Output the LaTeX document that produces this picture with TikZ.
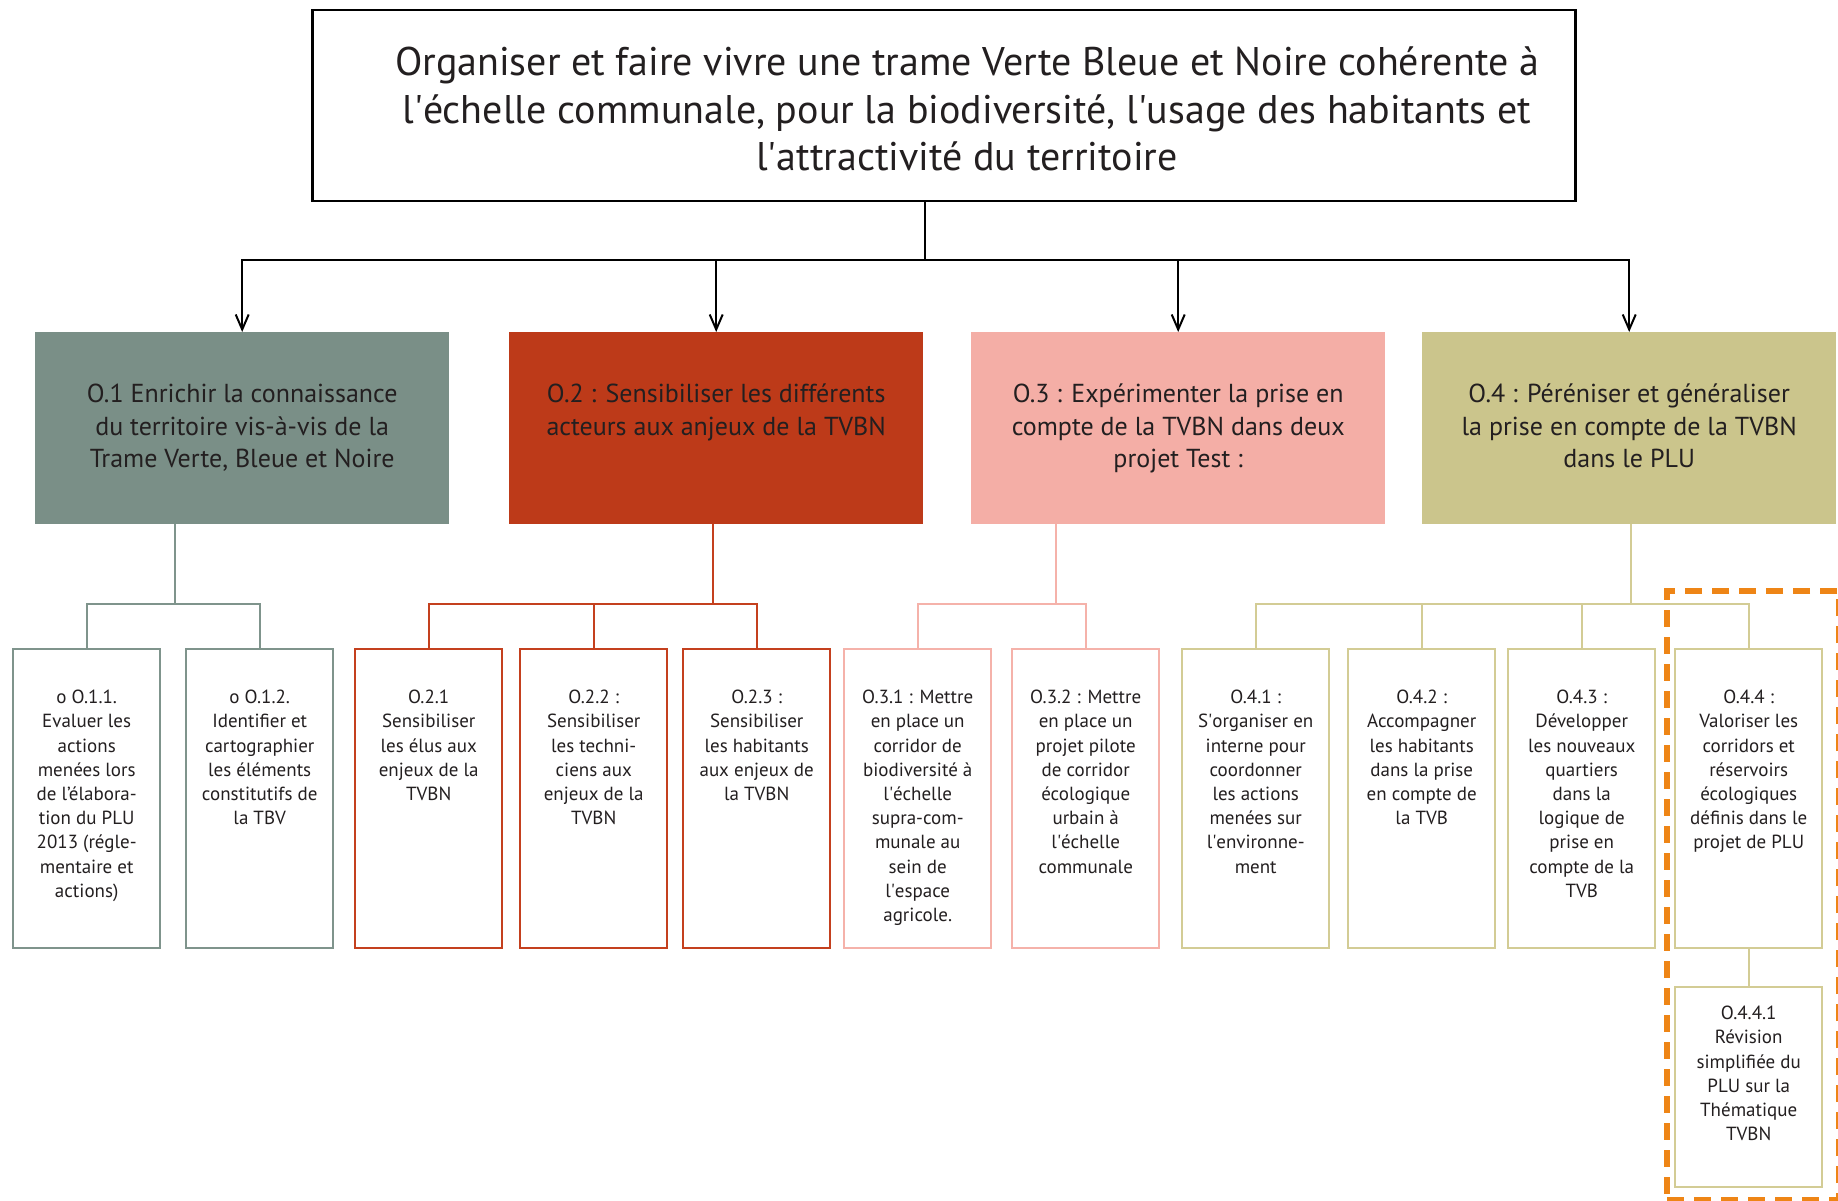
\documentclass[tikz,border=0pt]{standalone}
\usepackage{fontspec}
\setmainfont{PT Sans}
\usetikzlibrary{arrows.meta}
\definecolor{txt}{HTML}{231F20}
\definecolor{cA}{HTML}{7A8F87}
\definecolor{cAl}{HTML}{7F948C}
\definecolor{cB}{HTML}{BD3A19}
\definecolor{cBl}{HTML}{C4401E}
\definecolor{cC}{HTML}{F4AEA6}
\definecolor{cCl}{HTML}{F5B2AA}
\definecolor{cD}{HTML}{CBC58C}
\definecolor{cDl}{HTML}{D3CC95}
\definecolor{cO}{HTML}{EE8516}
\newcommand\apos{\textquotesingle}
\begin{document}
\begin{tikzpicture}[x=1pt,y=-1pt,
  topbox/.style={draw=black, line width=2.5pt, inner sep=0pt, anchor=north west,
    minimum width=1263pt, minimum height=191pt},
  lvlone/.style={fill=#1, draw=none, inner sep=0pt, anchor=north west,
    minimum width=414pt, minimum height=192pt},
  lvltwo/.style={draw=#1, fill=white, line width=2.4pt, inner sep=0pt, anchor=north west,
    minimum width=147pt, minimum height=299pt},
  toptext/.style={text=txt, align=center, inner sep=0pt, font=\fontsize{40}{47.5}\selectfont},
  onetext/.style={text=txt, align=center, inner sep=0pt, anchor=north, font=\fontsize{26}{32.5}\selectfont},
  twotext/.style={text=txt, align=center, inner sep=0pt, anchor=north, font=\fontsize{19}{24.2}\selectfont},
  blk/.style={draw=black, line width=2pt},
  arr/.style={blk, -{Straight Barb[length=15pt,width=13pt,line width=2pt]}},
  conn/.style={draw=#1, line width=2pt}
]
\useasboundingbox[fill=white] (0,0) rectangle (1838,1201);

% top box
\node[topbox] (top) at (311,9) {};
\node[toptext] (ttop) at (967,109) {Organiser et faire vivre une trame Verte Bleue et Noire cohérente à\\l\apos échelle communale, pour la biodiversité, l\apos usage des habitants et\\l\apos attractivité du territoire};

% level one
\node[lvlone=cA] (o1) at (35,332) {};
\node[lvlone=cB] (o2) at (509,332) {};
\node[lvlone=cC] (o3) at (971,332) {};
\node[lvlone=cD] (o4) at (1422,332) {};
\node[onetext] (to1) at ([yshift=-52pt]o1.north) {O.1 Enrichir la connaissance\\du territoire vis-à-vis de la\\Trame Verte, Bleue et Noire};
\node[onetext] (to2) at ([yshift=-52pt]o2.north) {O.2 : Sensibiliser les différents\\acteurs aux anjeux de la TVBN};
\node[onetext] (to3) at ([yshift=-52pt]o3.north) {O.3 : Expérimenter la prise en\\compte de la TVBN dans deux\\projet Test :};
\node[onetext] (to4) at ([yshift=-52pt]o4.north) {O.4 : Péréniser et généraliser\\la prise en compte de la TVBN\\dans le PLU};

% junctions
\coordinate (j0) at (925,260);
\coordinate (s1) at (175,604);
\coordinate (s2) at (713,604);
\coordinate (s3) at (1056,604);
\coordinate (s4) at (1631,604);

\draw[blk] (top.south -| j0) -- (j0);
\draw[arr] (j0) -| (o1.north);
\draw[arr] (j0) -| (o2.north);
\draw[arr] (j0) -| (o3.north);
\draw[arr] (j0) -| (o4.north);

% level two boxes
\node[lvltwo=cAl] (c11) at (12,648) {};
\node[lvltwo=cAl] (c12) at (185,648) {};
\node[lvltwo=cBl] (c21) at (354,648) {};
\node[lvltwo=cBl] (c22) at (519,648) {};
\node[lvltwo=cBl] (c23) at (682,648) {};
\node[lvltwo=cCl] (c31) at (843,648) {};
\node[lvltwo=cCl] (c32) at (1011,648) {};
\node[lvltwo=cDl] (c41) at (1181,648) {};
\node[lvltwo=cDl] (c42) at (1347,648) {};
\node[lvltwo=cDl] (c43) at (1507,648) {};
\node[lvltwo=cDl] (c44) at (1674,648) {};
\node[lvltwo=cDl, minimum height=200pt] (c441) at (1674,986) {};

% connectors level one -> two
\draw[conn=cAl] (o1.south -| s1) -- (s1);
\draw[conn=cAl] (s1) -| (c11.north);
\draw[conn=cAl] (s1) -| (c12.north);
\draw[conn=cBl] (o2.south -| s2) -- (s2);
\draw[conn=cBl] (s2) -| (c21.north);
\draw[conn=cBl] (s2) -| (c22.north);
\draw[conn=cBl] (s2) -| (c23.north);
\draw[conn=cCl] (o3.south -| s3) -- (s3);
\draw[conn=cCl] (s3) -| (c31.north);
\draw[conn=cCl] (s3) -| (c32.north);
\draw[conn=cDl] (o4.south -| s4) -- (s4);
\draw[conn=cDl] (s4) -| (c41.north);
\draw[conn=cDl] (s4) -| (c42.north);
\draw[conn=cDl] (s4) -| (c43.north);
\draw[conn=cDl] (s4) -| (c44.north);
\draw[conn=cDl] (c44.south) -- (c441.north);

% level two texts
\node[twotext] (t11) at ([yshift=-42pt]c11.north) {o O.1.1.\\Evaluer les\\actions\\menées lors\\de l’élabora-\\tion du PLU\\2013 (régle-\\mentaire et\\actions)};
\node[twotext] (t12) at ([yshift=-42pt]c12.north) {o O.1.2.\\Identifier et\\cartographier\\les éléments\\constitutifs de\\la TBV};
\node[twotext] (t21) at ([yshift=-42pt]c21.north) {O.2.1\\Sensibiliser\\les élus aux\\enjeux de la\\TVBN};
\node[twotext] (t22) at ([yshift=-42pt]c22.north) {O.2.2 :\\Sensibiliser\\les techni-\\ciens aux\\enjeux de la\\TVBN};
\node[twotext] (t23) at ([yshift=-42pt]c23.north) {O.2.3 :\\Sensibiliser\\les habitants\\aux enjeux de\\la TVBN};
\node[twotext] (t31) at ([yshift=-42pt]c31.north) {O.3.1 : Mettre\\en place un\\corridor de\\biodiversité à\\l\apos échelle\\supra-com-\\munale au\\sein de\\l\apos espace\\agricole.};
\node[twotext] (t32) at ([yshift=-42pt]c32.north) {O.3.2 : Mettre\\en place un\\projet pilote\\de corridor\\écologique\\urbain à\\l\apos échelle\\communale};
\node[twotext] (t41) at ([yshift=-42pt]c41.north) {O.4.1 :\\S\apos organiser en\\interne pour\\coordonner\\les actions\\menées sur\\l\apos environne-\\ment};
\node[twotext] (t42) at ([yshift=-42pt]c42.north) {O.4.2 :\\Accompagner\\les habitants\\dans la prise\\en compte de\\la TVB};
\node[twotext] (t43) at ([yshift=-42pt]c43.north) {O.4.3 :\\Développer\\les nouveaux\\quartiers\\dans la\\logique de\\prise en\\compte de la\\TVB};
\node[twotext] (t44) at ([yshift=-42pt]c44.north) {O.4.4 :\\Valoriser les\\corridors et\\réservoirs\\écologiques\\définis dans le\\projet de PLU};
\node[twotext] (t441) at ([yshift=-20pt]c441.north) {O.4.4.1\\Révision\\simplifiée du\\PLU sur la\\Thématique\\TVBN};

% dashed highlight
\node[draw=cO, line width=6pt, dash pattern=on 17pt off 10pt, inner sep=0pt, anchor=north west,
  minimum width=172pt, minimum height=609pt] (zone) at (1664,588) {};
\end{tikzpicture}
\end{document}
